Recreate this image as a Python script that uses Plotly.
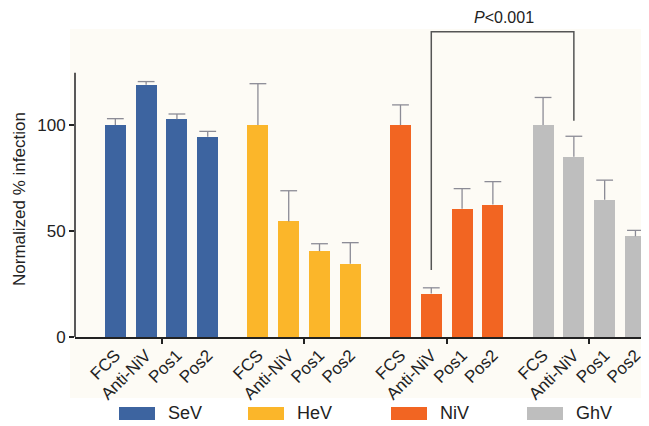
import plotly.graph_objects as go

viruses = ["SeV", "HeV", "NiV", "GhV"]
treatments = ["FCS", "Anti-NiV", "Pos1", "Pos2"]
colors = ["#3D64A0", "#FBB62A", "#F26522", "#BEBEBE"]

values = {
    "SeV": [100, 119, 102.7, 94.5],
    "HeV": [100, 54.5, 40.5, 34.5],
    "NiV": [100, 20.5, 60.5, 62.5],
    "GhV": [100, 85, 64.8, 47.5],
}
err_plus = {
    "SeV": [3, 1.5, 2.5, 2.5],
    "HeV": [19.5, 14.5, 3.5, 10],
    "NiV": [9.5, 2.7, 9.5, 10.8],
    "GhV": [13, 9.7, 9.2, 2.8],
}

y_ticks = [0, 50, 100]
y_title = "Normalized % infection"
p_label = "<i>P</i><0.001"
bracket_y = [31.6, 144, 144, 102]

GROUP_GAP = 4.63
XMIN, XMAX = -1.31, 17.33
YMAX = 145.3
AXIS_TOP = 124.7
ERR_COLOR = "#8C8C96"

# page offset (body margin 8px)
OFF = 8
fig = go.Figure()
tickvals, ticktext, centers = [], [], []
xpos = {}
for g, v in enumerate(viruses):
    xs = [g * GROUP_GAP + i for i in range(len(treatments))]
    xpos[v] = xs
    tickvals += xs
    ticktext += treatments
    centers.append(sum(xs) / len(xs))
    fig.add_trace(go.Bar(
        x=xs, y=values[v], name=v, marker_color=colors[g], marker_line_width=0,
        width=0.68, showlegend=False,
    ))
    # one-sided (upper) error bars: stems + caps
    sx, sy = [], []
    for x, y, e in zip(xs, values[v], err_plus[v]):
        sx += [x, x, None]
        sy += [y, y + e, None]
    fig.add_trace(go.Scatter(x=sx, y=sy, mode="lines", line=dict(color=ERR_COLOR, width=1.3),
                             showlegend=False, hoverinfo="skip"))
    fig.add_trace(go.Scatter(x=xs, y=[y + e for y, e in zip(values[v], err_plus[v])],
                             mode="markers", showlegend=False, hoverinfo="skip",
                             marker=dict(symbol="line-ew-open", size=12, color=ERR_COLOR,
                                         line=dict(color=ERR_COLOR, width=1.3))))

# significance bracket between NiV Anti-NiV and GhV Anti-NiV
bx1 = xpos["NiV"][1]
bx2 = xpos["GhV"][1]
fig.add_trace(go.Scatter(x=[bx1, bx1, bx2, bx2], y=bracket_y, mode="lines",
                         line=dict(color="#555555", width=1.5), showlegend=False,
                         hoverinfo="skip"))

# page-pixel -> paper conversion (plot area spans px 75..649, 29..337)
W, H = 649 - 75, 337 - 29
def px_x(p):
    return (p - 75) / W
def px_y(p):
    return (337 - p) / H

fig.add_annotation(x=(bx1 + bx2) / 2 + 0.05, xref="x", yref="paper", y=px_y(18),
                   text=p_label, showarrow=False,
                   font=dict(size=16, color="#222222"), xanchor="center", yanchor="middle")

# y-axis title
fig.add_annotation(xref="paper", yref="paper", x=px_x(19), y=px_y(199), text=y_title,
                   textangle=-90, showarrow=False, xanchor="center", yanchor="middle",
                   font=dict(size=17, color="#222222"))

# cream background panel
fig.add_shape(type="rect", xref="paper", yref="paper", layer="below",
              x0=px_x(70), x1=px_x(649), y0=px_y(398), y1=px_y(29),
              fillcolor="#FDFBF5", line_width=0)

# y axis line (stops at ~125)
fig.add_shape(type="line", xref="paper", yref="y", x0=0, x1=0, y0=0, y1=AXIS_TOP,
              line=dict(color="#222222", width=1.5))

# manual legend
sw_left = [119, 248, 391, 527]
for g, v in enumerate(viruses):
    fig.add_shape(type="rect", xref="paper", yref="paper",
                  x0=px_x(sw_left[g]), x1=px_x(sw_left[g] + 36),
                  y0=px_y(420), y1=px_y(407), fillcolor=colors[g], line_width=0)
    fig.add_annotation(xref="paper", yref="paper", x=px_x(sw_left[g] + 47), y=px_y(413),
                       text=v, showarrow=False, xanchor="left", yanchor="middle",
                       font=dict(size=18, color="#222222"))

fig.update_layout(
    width=649 - OFF, height=426 - OFF,
    margin=dict(l=75 - OFF, r=0, t=29 - OFF, b=426 - 337, autoexpand=False),
    paper_bgcolor="#FFFFFF", plot_bgcolor="rgba(0,0,0,0)",
    font=dict(family="Liberation Sans, Arial, sans-serif", color="#222222"),
    bargap=0,
    xaxis=dict(range=[XMIN, XMAX], tickmode="array", tickvals=tickvals, ticktext=ticktext,
               tickangle=-45, ticks="", showline=True, linecolor="#222222", linewidth=1.5,
               showgrid=False, zeroline=False, tickfont=dict(size=17),
               minor=dict(tickmode="array", tickvals=centers, ticks="outside",
                          ticklen=5, tickcolor="#222222", tickwidth=1.5, showgrid=False)),
    yaxis=dict(range=[0, YMAX], tickvals=y_ticks, ticks="outside", ticklen=5,
               tickcolor="#222222", tickwidth=1.5, showline=False, showgrid=False,
               zeroline=False, tickfont=dict(size=17)),
)

fig.write_html("out.html")
